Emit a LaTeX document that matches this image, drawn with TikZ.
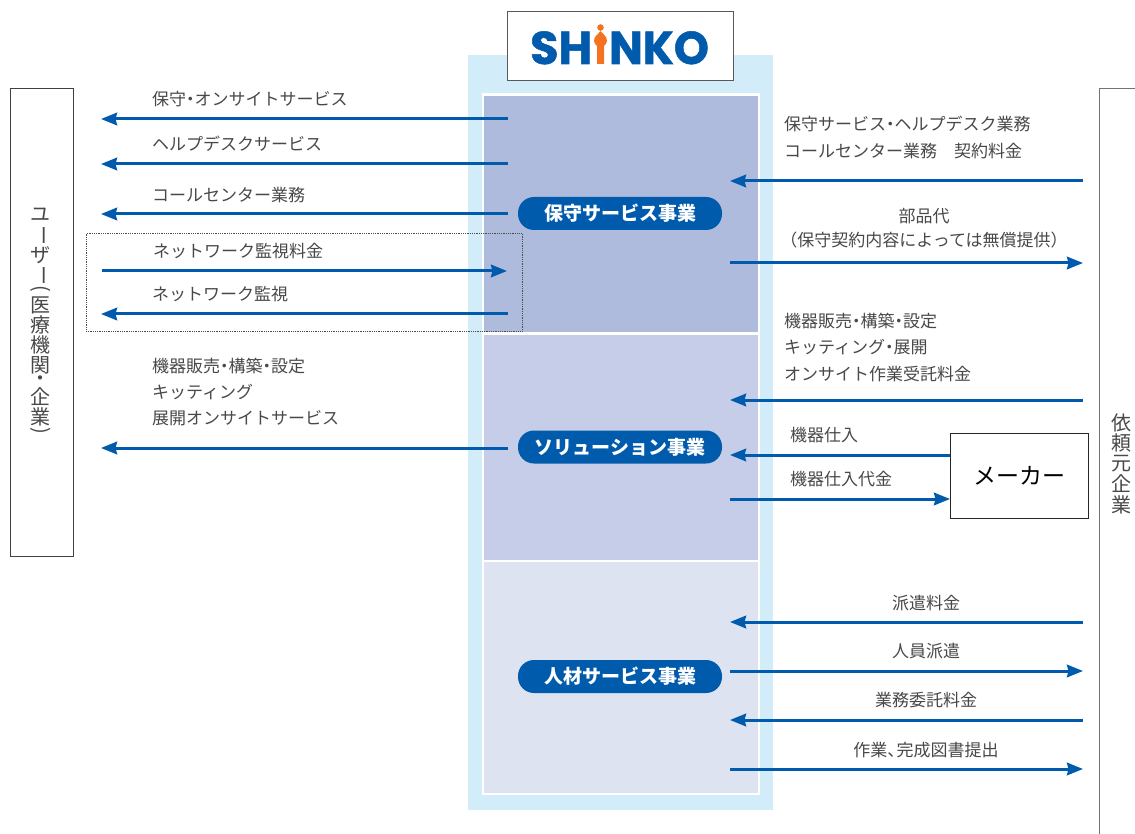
\documentclass[tikz,border=0pt]{standalone}
\usepackage{fontspec}
\usepackage{graphicx}
\setmainfont{Noto Sans CJK JP}
\newfontfamily\logofont[BoldFeatures={FakeBold=1.2}]{Poppins}
\usetikzlibrary{arrows.meta}
\definecolor{sblue}{HTML}{005BAC}
\definecolor{sorange}{HTML}{F47320}
\definecolor{stext}{HTML}{484848}
\definecolor{souter}{HTML}{D3ECFA}
\definecolor{bandA}{HTML}{AEBBDD}
\definecolor{bandB}{HTML}{C5CDE8}
\definecolor{bandC}{HTML}{DEE3F2}
\newcommand{\nd}{\kern-.25em・\kern-.25em}
\newcommand{\ncomma}{、\kern-.45em}
\newcommand{\vchh}[2]{\hbox to 21pt{\hss\vbox to #1pt{\vss\hbox{#2}\vss}\hss}}
\newcommand{\vch}[1]{\vchh{20}{#1}}
\newcommand{\vcr}[1]{\vchh{20.5}{#1}}
\newcommand{\vrt}[1]{\vch{\rotatebox[origin=c]{-90}{#1}}}
\newcommand{\vpar}[1]{\vchh{10}{\rotatebox[origin=c]{-90}{#1}}}
\tikzset{
  x=1pt,y=-1pt,
  lbl/.style={anchor=base west,inner sep=0pt,text=stext,font=\fontsize{17}{20}\selectfont},
  lblc/.style={anchor=base,inner sep=0pt,text=stext,font=\fontsize{17}{20}\selectfont},
  flow/.style={draw=sblue,line width=3pt,yshift=-.4pt,-{Stealth[length=16pt,width=12.5pt,inset=1.5pt]}},
  band/.style={draw=white,line width=2.4pt,anchor=north west,inner sep=0pt},
  pill/.style={fill=sblue,rounded corners=16pt,text=white,minimum width=204pt,minimum height=33pt,inner sep=0pt,font=\fontsize{19}{21}\selectfont\bfseries},
  frame/.style={draw=#1,line width=1pt,fill=white,inner sep=0pt},
  vtext/.style={inner sep=0pt,text=stext,font=\fontsize{20}{20}\selectfont},
  logoletter/.style={anchor=base west,inner sep=0pt,text=sblue,font=\logofont\bfseries\fontsize{46}{46}\selectfont}
}
\begin{document}
\begin{tikzpicture}
\useasboundingbox (0,0) rectangle (1135,834);
% panels
\node[fill=souter,anchor=north west,inner sep=0pt,minimum width=305pt,minimum height=755pt] (outer) at (468,55) {};
\node[band,fill=bandA,minimum width=276pt,minimum height=238pt] (b1) at (481.5,93.5) {};
\node[band,fill=bandB,minimum width=276pt,minimum height=227pt] (b2) at (481.5,332.5) {};
\node[band,fill=bandC,minimum width=276pt,minimum height=233pt] (b3) at (481.5,559.5) {};
% logo
\node[frame=black!65,minimum width=226pt,minimum height=69pt,anchor=north west] (logo) at (506.5,11.5) {};
\node[logoletter] (lsh) at (530,64) {SH};
\node[logoletter,xscale=.97] (lnko) at (609,64) {NKO};
\fill[sorange] (600.5,27.5) circle (3.3);
\fill[sorange] (600.5,31) .. controls (598,34.5) and (594,36) .. (594,41) .. controls (594,43) and (596,45) .. (597,46) -- (597,64) -- (604,64) -- (604,46) .. controls (605,45) and (607,43) .. (607,41) .. controls (607,36) and (603,34.5) .. (600.5,31) -- cycle;
% side boxes
\node[frame=black!75,minimum width=63pt,minimum height=467pt,anchor=north west] (user) at (9.5,88.5) {};
\node[vtext] (usert) at (41,321) {\vbox{\offinterlineskip\vch{ユ}\vrt{ー}\vch{ザ}\vrt{ー}\vpar{(}\vch{医}\vch{療}\vch{機}\vch{関}\vchh{12}{・}\vch{企}\vch{業}\vpar{)}}};
\draw[black!55,line width=1pt] (1135,88.5) -- (1099.5,88.5) -- (1099.5,834);
\node[vtext] (clientt) at (1121,463.5) {\vbox{\offinterlineskip\vcr{依}\vcr{頼}\vcr{元}\vcr{企}\vcr{業}}};
\node[frame=black!85,minimum width=138pt,minimum height=85pt,anchor=north west,text=black,font=\fontsize{23}{25}\selectfont] (maker) at (950,432.5) {メーカー};
% pills
\node[pill] (p1) at (620,213.5) {保守サービス事業};
\node[pill] (p2) at (620,447) {ソリューション事業};
\node[pill] (p3) at (620,676.5) {人材サービス事業};
% labels
\node[lbl] (t1) at (152,106) {保守\nd オンサイトサービス};
\node[lbl] (t2) at (152,151) {ヘルプデスクサービス};
\node[lbl] (t3) at (152,202) {コールセンター業務};
\node[lbl] (t4) at (153,258) {ネットワーク監視料金};
\node[lbl] (t5) at (152,301) {ネットワーク監視};
\node[lbl] (t6) at (152,372) {機器販売\nd 構築\nd 設定};
\node[lbl] (t7) at (152,398) {キッティング};
\node[lbl] (t8) at (152,424) {展開オンサイトサービス};
\node[lbl] (r1) at (784,131) {保守サービス\nd ヘルプデスク業務};
\node[lbl] (r2) at (784,158) {コールセンター業務\hspace{1em}契約料金};
\node[lblc] (r3) at (924,223) {部品代};
\node[lblc] (r4) at (924,247) {\kern-.3em（保守契約内容によっては無償提供）\kern-.3em};
\node[lbl] (r5) at (784,327) {機器販売\nd 構築\nd 設定};
\node[lbl] (r6) at (784,353) {キッティング\nd 展開};
\node[lbl] (r7) at (784,380) {オンサイト作業受託料金};
\node[lbl] (r8) at (790,441) {機器仕入};
\node[lbl] (r9) at (790,485) {機器仕入代金};
\node[lblc] (r10) at (926,609) {派遣料金};
\node[lblc] (r11) at (926,657) {人員派遣};
\node[lblc] (r12) at (926,706) {業務委託料金};
\node[lblc] (r13) at (926,756) {作業\ncomma 完成図書提出};
% connector ends
\foreach \n/\y in {a/119,b/164,c/214,d/314,e/448}{
  \coordinate (\n C) at (508,\y);
  \coordinate (\n U) at (101,\y);
  \draw[flow] (\n C) -- (\n U);
}
\coordinate (fU) at (102,271); \coordinate (fC) at (507,271);
\draw[flow] (fU) -- (fC);
\foreach \n/\y in {g/181,h/400,i/622,j/720}{
  \coordinate (\n R) at (1083,\y);
  \coordinate (\n C) at (730,\y);
  \draw[flow] (\n R) -- (\n C);
}
\foreach \n/\y in {k/263,l/671,m/769}{
  \coordinate (\n C) at (730,\y);
  \coordinate (\n R) at (1083,\y);
  \draw[flow] (\n C) -- (\n R);
}
\coordinate (nC) at (730,455);
\draw[flow] (nC -| maker.west) -- (nC);
\coordinate (oC) at (730,499);
\draw[flow] (oC) -- (oC -| maker.west);
% dotted frame
\node[draw=black!70,densely dotted,line width=.8pt,inner sep=0pt,minimum width=436pt,minimum height=98pt,anchor=north west] (net) at (85.5,233) {};
\end{tikzpicture}
\end{document}
